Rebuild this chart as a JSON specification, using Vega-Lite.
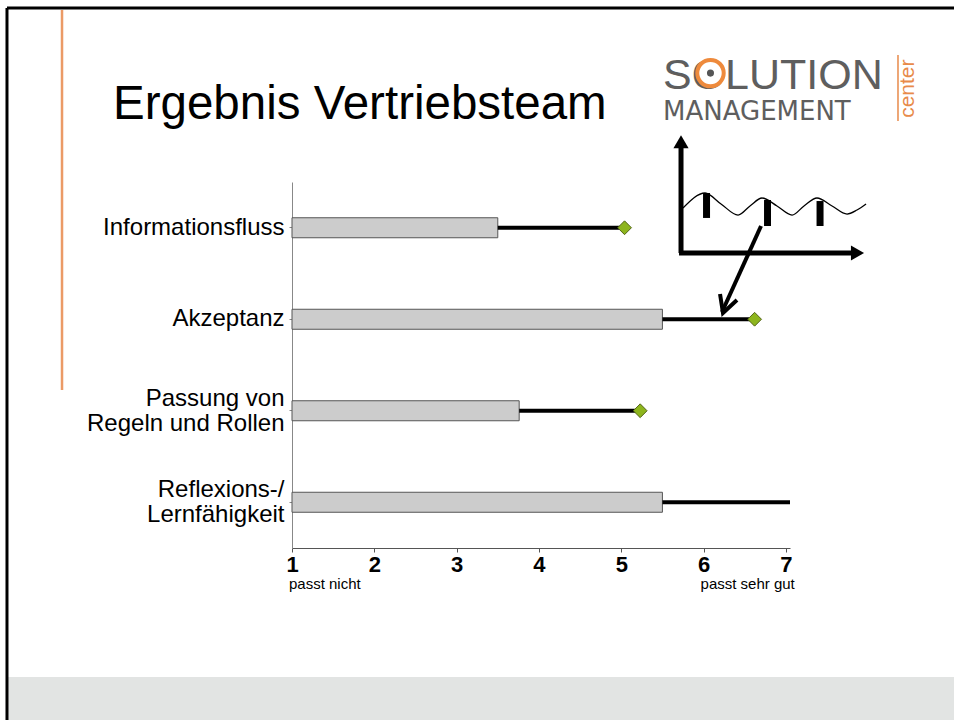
{
  "$schema": "https://vega.github.io/schema/vega-lite/v6.json",
  "width": 498,
  "height": 366,
  "autosize": {"type": "none"},
  "padding": {"left": 292, "top": 182, "right": 164, "bottom": 172},
  "background": "white",
  "config": {"view": {"stroke": null}, "font": "Liberation Sans"},
  "resolve": {"scale": {"x": "independent", "y": "independent"}, "axis": {"x": "independent", "y": "independent"}},
  "layer": [
    {
      "data": {"values": [
        {"kriterium": "Informationsfluss", "ist": 3.5, "ziel": 5.04},
        {"kriterium": "Akzeptanz", "ist": 5.5, "ziel": 6.62},
        {"kriterium": "Passung von Regeln und Rollen", "ist": 3.76, "ziel": 5.23},
        {"kriterium": "Reflexions-/Lernfähigkeit", "ist": 5.5, "ziel": 7.3}
      ]},
      "layer": [
        {
          "mark": {"type": "bar", "size": 20, "fill": "#cccccc", "stroke": "#555555", "strokeWidth": 1},
          "encoding": {
            "y": {"field": "kriterium", "type": "nominal", "sort": null, "title": null,
              "scale": {"paddingInner": 0, "paddingOuter": 0},
              "axis": {"labelFont": "Liberation Sans", "labelFontSize": 24, "labelColor": "black", "labelLineHeight": 25,
                "labelPadding": 5, "tickSize": 3, "tickColor": "#888888", "domainColor": "#888888", "labelLimit": 400, "grid": false,
                "labelOffset": {"condition": {"test": "datum.value == 'Passung von Regeln und Rollen' || datum.value == 'Reflexions-/Lernfähigkeit'", "value": -12}, "value": 0},
                "labelExpr": "datum.label == 'Passung von Regeln und Rollen' ? ['Passung von', 'Regeln und Rollen'] : datum.label == 'Reflexions-/Lernfähigkeit' ? ['Reflexions-/', 'Lernfähigkeit'] : datum.label"}},
            "x": {"field": "ist", "type": "quantitative", "title": null,
              "scale": {"domain": [1, 7.05], "nice": false, "zero": false},
              "axis": {"values": [1, 2, 3, 4, 5, 6, 7], "format": "d", "labelFont": "Liberation Sans", "labelFontSize": 22,
                "labelFontWeight": "bold", "labelColor": "black", "tickSize": 4, "tickColor": "#555555", "domainColor": "#555555",
                "labelPadding": 2, "grid": false, "labelFlush": false, "labelOverlap": false, "title": null}},
            "x2": {"datum": 1}
          }
        },
        {
          "mark": {"type": "rule", "strokeWidth": 4, "color": "black", "clip": true},
          "encoding": {
            "y": {"field": "kriterium", "type": "nominal", "sort": null},
            "x": {"field": "ist", "type": "quantitative", "scale": {"domain": [1, 7.05], "nice": false, "zero": false}},
            "x2": {"field": "ziel"}
          }
        },
        {
          "mark": {"type": "point", "shape": "diamond", "filled": true, "size": 190, "fill": "#8db51d", "stroke": "#55661a", "strokeWidth": 1, "opacity": 1, "clip": true},
          "encoding": {
            "y": {"field": "kriterium", "type": "nominal", "sort": null},
            "x": {"field": "ziel", "type": "quantitative", "scale": {"domain": [1, 7.05], "nice": false, "zero": false}}
          }
        }
      ]
    },
    {
      "layer": [
        {
          "data": {"values": [{"x": -2.45, "x2": 9.1, "y": 5.41, "y2": 5.95}]},
          "mark": {"type": "rect", "color": "#e2e4e3"},
          "encoding": {
            "x": {"field": "x", "type": "quantitative", "scale": {"domain": [1, 7.05], "nice": false, "zero": false}, "axis": null},
            "x2": {"field": "x2"},
            "y": {"field": "y", "type": "quantitative", "scale": {"domain": [0, 4], "reverse": true, "nice": false, "zero": false}, "axis": null},
            "y2": {"field": "y2"}
          }
        },
        {
          "data": {"values": [
            {"x": -2.4625, "x2": 9.1, "y": -1.9016, "y2": -1.9016},
            {"x": -2.4625, "x2": -2.4625, "y": -1.9016, "y2": 5.95}
          ]},
          "mark": {"type": "rule", "color": "black", "strokeWidth": 3},
          "encoding": {
            "x": {"field": "x", "type": "quantitative", "scale": {"domain": [1, 7.05], "nice": false, "zero": false}, "axis": null},
            "x2": {"field": "x2"},
            "y": {"field": "y", "type": "quantitative", "scale": {"domain": [0, 4], "reverse": true, "nice": false, "zero": false}, "axis": null},
            "y2": {"field": "y2"}
          }
        },
        {
          "data": {"values": [{"x": -1.794, "y": -1.88, "y2": 2.273}]},
          "mark": {"type": "rule", "color": "#eb9a66", "strokeWidth": 2.5},
          "encoding": {
            "x": {"field": "x", "type": "quantitative", "scale": {"domain": [1, 7.05], "nice": false, "zero": false}, "axis": null},
            "y": {"field": "y", "type": "quantitative", "scale": {"domain": [0, 4], "reverse": true, "nice": false, "zero": false}, "axis": null},
            "y2": {"field": "y2"}
          }
        },
        {
          "data": {"values": [{"x": 8.362, "y": -1.388, "y2": -0.667}]},
          "mark": {"type": "rule", "color": "#e88a4a", "strokeWidth": 1.5},
          "encoding": {
            "x": {"field": "x", "type": "quantitative", "scale": {"domain": [1, 7.05], "nice": false, "zero": false}, "axis": null},
            "y": {"field": "y", "type": "quantitative", "scale": {"domain": [0, 4], "reverse": true, "nice": false, "zero": false}, "axis": null},
            "y2": {"field": "y2"}
          }
        },
        {
          "data": {"values": [
            {"x": 5.726, "x2": 5.726, "y": 0.776, "y2": -0.372},
            {"x": 5.702, "x2": 7.8, "y": 0.776, "y2": 0.776}
          ]},
          "mark": {"type": "rule", "color": "black", "strokeWidth": 5},
          "encoding": {
            "x": {"field": "x", "type": "quantitative", "scale": {"domain": [1, 7.05], "nice": false, "zero": false}, "axis": null},
            "x2": {"field": "x2"},
            "y": {"field": "y", "type": "quantitative", "scale": {"domain": [0, 4], "reverse": true, "nice": false, "zero": false}, "axis": null},
            "y2": {"field": "y2"}
          }
        },
        {
          "data": {"values": [
            {"x": 6.036, "y": 0.12, "y2": 0.393},
            {"x": 6.777, "y": 0.197, "y2": 0.481},
            {"x": 7.415, "y": 0.208, "y2": 0.481}
          ]},
          "mark": {"type": "rule", "color": "black", "strokeWidth": 7},
          "encoding": {
            "x": {"field": "x", "type": "quantitative", "scale": {"domain": [1, 7.05], "nice": false, "zero": false}, "axis": null},
            "y": {"field": "y", "type": "quantitative", "scale": {"domain": [0, 4], "reverse": true, "nice": false, "zero": false}, "axis": null},
            "y2": {"field": "y2"}
          }
        },
        {
          "data": {"values": [{"x": 6.698, "x2": 6.224, "y": 0.481, "y2": 1.421}]},
          "mark": {"type": "rule", "color": "black", "strokeWidth": 4},
          "encoding": {
            "x": {"field": "x", "type": "quantitative", "scale": {"domain": [1, 7.05], "nice": false, "zero": false}, "axis": null},
            "x2": {"field": "x2"},
            "y": {"field": "y", "type": "quantitative", "scale": {"domain": [0, 4], "reverse": true, "nice": false, "zero": false}, "axis": null},
            "y2": {"field": "y2"}
          }
        },
        {
          "data": {"values": [
            {"x": 6.2, "y": 1.224}, {"x": 6.236, "y": 1.432}, {"x": 6.406, "y": 1.29}
          ]},
          "mark": {"type": "line", "color": "black", "strokeWidth": 4, "strokeJoin": "miter"},
          "encoding": {
            "x": {"field": "x", "type": "quantitative", "scale": {"domain": [1, 7.05], "nice": false, "zero": false}, "axis": null},
            "y": {"field": "y", "type": "quantitative", "scale": {"domain": [0, 4], "reverse": true, "nice": false, "zero": false}, "axis": null}
          }
        },
        {
          "data": {"values": [
            {"x": 5.75, "y": 0.284}, {"x": 6.018, "y": 0.12}, {"x": 6.212, "y": 0.24}, {"x": 6.419, "y": 0.361},
            {"x": 6.564, "y": 0.262}, {"x": 6.71, "y": 0.175}, {"x": 6.892, "y": 0.262}, {"x": 7.075, "y": 0.361},
            {"x": 7.22, "y": 0.262}, {"x": 7.378, "y": 0.175}, {"x": 7.561, "y": 0.262}, {"x": 7.743, "y": 0.35},
            {"x": 7.864, "y": 0.306}, {"x": 7.974, "y": 0.24}
          ]},
          "mark": {"type": "line", "color": "black", "strokeWidth": 1.3, "interpolate": "monotone"},
          "encoding": {
            "x": {"field": "x", "type": "quantitative", "scale": {"domain": [1, 7.05], "nice": false, "zero": false}, "axis": null},
            "y": {"field": "y", "type": "quantitative", "scale": {"domain": [0, 4], "reverse": true, "nice": false, "zero": false}, "axis": null}
          }
        },
        {
          "data": {"values": [{"x": 5.726, "y": -0.44, "shape": "triangle-up"}, {"x": 7.87, "y": 0.776, "shape": "triangle-right"}]},
          "mark": {"type": "point", "filled": true, "color": "black", "opacity": 1, "size": 230},
          "encoding": {
            "x": {"field": "x", "type": "quantitative", "scale": {"domain": [1, 7.05], "nice": false, "zero": false}, "axis": null},
            "y": {"field": "y", "type": "quantitative", "scale": {"domain": [0, 4], "reverse": true, "nice": false, "zero": false}, "axis": null},
            "shape": {"field": "shape", "type": "nominal", "scale": null, "legend": null}
          }
        },
        {
          "data": {"values": [{"x": -1.175, "y": -0.689, "text": "Ergebnis Vertriebsteam"}]},
          "mark": {"type": "text", "align": "left", "baseline": "alphabetic", "font": "Liberation Sans", "fontSize": 47.5, "color": "black"},
          "encoding": {
            "x": {"field": "x", "type": "quantitative", "scale": {"domain": [1, 7.05], "nice": false, "zero": false}, "axis": null},
            "y": {"field": "y", "type": "quantitative", "scale": {"domain": [0, 4], "reverse": true, "nice": false, "zero": false}, "axis": null},
            "text": {"field": "text"}
          }
        },
        {
          "data": {"values": [{"x": 5.507, "y": -1.02, "text": "SOLUTION"}]},
          "mark": {"type": "text", "align": "left", "baseline": "alphabetic", "font": "Liberation Sans", "fontSize": 43, "color": "#5e5e5e"},
          "encoding": {
            "x": {"field": "x", "type": "quantitative", "scale": {"domain": [1, 7.05], "nice": false, "zero": false}, "axis": null},
            "y": {"field": "y", "type": "quantitative", "scale": {"domain": [0, 4], "reverse": true, "nice": false, "zero": false}, "axis": null},
            "text": {"field": "text"}
          }
        },
        {
          "data": {"values": [{"x": 6.084, "y": -1.19}]},
          "mark": {"type": "point", "shape": "circle", "filled": false, "fill": "white", "fillOpacity": 1, "stroke": "#ee8a3c", "strokeWidth": 4, "opacity": 1, "size": 700},
          "encoding": {
            "x": {"field": "x", "type": "quantitative", "scale": {"domain": [1, 7.05], "nice": false, "zero": false}, "axis": null},
            "y": {"field": "y", "type": "quantitative", "scale": {"domain": [0, 4], "reverse": true, "nice": false, "zero": false}, "axis": null}
          }
        },
        {
          "data": {"values": [{"x": 6.084, "y": -1.19}]},
          "mark": {"type": "point", "shape": "circle", "filled": true, "color": "#555555", "opacity": 1, "size": 50},
          "encoding": {
            "x": {"field": "x", "type": "quantitative", "scale": {"domain": [1, 7.05], "nice": false, "zero": false}, "axis": null},
            "y": {"field": "y", "type": "quantitative", "scale": {"domain": [0, 4], "reverse": true, "nice": false, "zero": false}, "axis": null}
          }
        },
        {
          "data": {"values": [{"x": 5.507, "y": -0.678, "text": "MANAGEMENT"}]},
          "mark": {"type": "text", "align": "left", "baseline": "alphabetic", "font": "DejaVu Sans", "fontSize": 26, "color": "#5e5e5e"},
          "encoding": {
            "x": {"field": "x", "type": "quantitative", "scale": {"domain": [1, 7.05], "nice": false, "zero": false}, "axis": null},
            "y": {"field": "y", "type": "quantitative", "scale": {"domain": [0, 4], "reverse": true, "nice": false, "zero": false}, "axis": null},
            "text": {"field": "text"}
          }
        },
        {
          "data": {"values": [{"x": 8.484, "y": -1.02, "text": "center"}]},
          "mark": {"type": "text", "align": "center", "baseline": "middle", "angle": 270, "font": "Liberation Sans", "fontSize": 21, "color": "#e88a4a"},
          "encoding": {
            "x": {"field": "x", "type": "quantitative", "scale": {"domain": [1, 7.05], "nice": false, "zero": false}, "axis": null},
            "y": {"field": "y", "type": "quantitative", "scale": {"domain": [0, 4], "reverse": true, "nice": false, "zero": false}, "axis": null},
            "text": {"field": "text"}
          }
        },
        {
          "data": {"values": [{"x": 1, "y": 4.448, "text": "passt nicht"}, {"x": 6, "y": 4.448, "text": "passt sehr gut"}]},
          "mark": {"type": "text", "align": "left", "baseline": "alphabetic", "dx": -3, "font": "Liberation Sans", "fontSize": 15, "color": "black"},
          "encoding": {
            "x": {"field": "x", "type": "quantitative", "scale": {"domain": [1, 7.05], "nice": false, "zero": false}, "axis": null},
            "y": {"field": "y", "type": "quantitative", "scale": {"domain": [0, 4], "reverse": true, "nice": false, "zero": false}, "axis": null},
            "text": {"field": "text"}
          }
        }
      ]
    }
  ]
}
